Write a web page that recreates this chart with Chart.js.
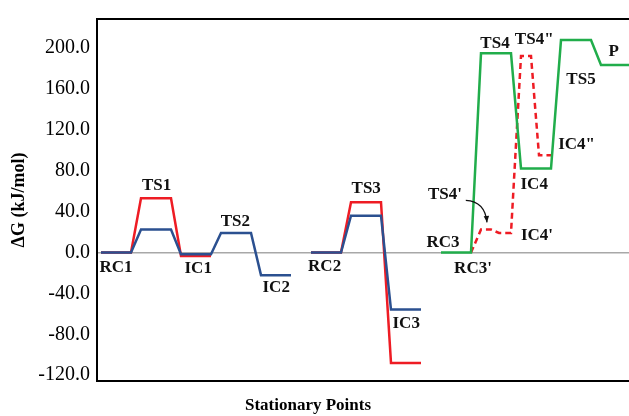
<!DOCTYPE html>
<html>
<head>
<meta charset="utf-8">
<script src="https://cdn.jsdelivr.net/npm/chart.js@4"></script>
<style>
  html, body { margin: 0; padding: 0; background: #fff; }
  #wrap { position: relative; width: 629px; height: 416px; }
</style>
</head>
<body>
<div id="wrap"><canvas id="chart"></canvas></div>
<script>
// x = position along the reaction (stage units), y = ΔG in kJ/mol
const stagesA = [0, 1, 2, 3, 4];              // RC1 TS1 IC1 TS2 IC2
const stagesB = [5.25, 6.25, 7.25];           // RC2 TS3 IC3
const stagesC = [8.5, 9.5, 10.5, 11.5, 12.5]; // RC3 TS4 IC4 TS5 P

const blueA = [0, 22.5, -1.7, 19.2, -22.1];
const redA = [0, 53.2, -3.4];
const blueB = [0, 36.1, -55.8];
const redB = [0, 49.3, -108.0];
const greenC = [0, 195.0, 82.3, 208.0, 183.7];

// RC3' -> TS4' -> IC4' -> TS4" -> IC4" (narrow levels)
const dashFrom = [9.25, 9.5, 9.95, 10.5, 10.95];
const dashTo = [9.25, 9.75, 10.25, 10.75, 11.25];
const dashG = [0, 22.5, 19.2, 192.4, 95.3];

const yTicks = [-120, -80, -40, 0, 40, 80, 120, 160, 200];

const pointNames = ['RC1', 'TS1', 'IC1', 'TS2', 'IC2', 'RC2', 'TS3', 'IC3', 'RC3', "RC3'",
  "TS4'", "IC4'", 'TS4', 'TS4"', 'IC4', 'IC4"', 'TS5', 'P'];
// where each name sits (data units)
const nameX = [0.375, 1.39, 2.43, 3.36, 4.38, 5.59, 6.63, 7.63, 8.55, 9.3,
  8.6, 10.9, 9.85, 10.83, 10.83, 11.89, 12.0, 12.82];
const nameY = [-15, 65.5, -16, 30.6, -34.5, -14.1, 62.6, -69.4, 10.2, -16,
  56.8, 17, 204.4, 208.5, 66.5, 105.3, 169.4, 196.6];

const LEVEL = 0.75;

function levels(starts, values) {
  const pts = [];
  starts.forEach((s, i) => {
    pts.push({x: s, y: values[i]});
    pts.push({x: s + LEVEL, y: values[i]});
  });
  return pts;
}

function narrowLevels(from, to, values) {
  const pts = [];
  from.forEach((s, i) => {
    pts.push({x: s, y: values[i]});
    if (to[i] !== s) pts.push({x: to[i], y: values[i]});
  });
  return pts;
}

const RED = '#ee1c24';
const BLUE = '#2b5090';
const GREEN = '#21ad4b';
const SERIF = '"Liberation Serif", "Times New Roman", serif';

function line(data, color, dash) {
  return {
    data: data,
    borderColor: color,
    borderWidth: 2.5,
    borderDash: dash || [],
    pointRadius: 0,
    fill: false,
    tension: 0,
  };
}

const annotations = {
  id: 'annotations',
  afterDatasetsDraw(chart) {
    const {ctx, scales: {x, y}} = chart;
    ctx.save();
    ctx.fillStyle = '#111';
    ctx.font = 'bold 17px ' + SERIF;
    ctx.textAlign = 'center';
    ctx.textBaseline = 'middle';
    pointNames.forEach((n, i) => {
      ctx.fillText(n, x.getPixelForValue(nameX[i]), y.getPixelForValue(nameY[i]));
    });

    // curved arrow TS4' -> its level
    const x0 = x.getPixelForValue(9.12), y0 = y.getPixelForValue(51);
    const cx = x.getPixelForValue(9.6), cy = y.getPixelForValue(50);
    const x1 = x.getPixelForValue(9.65), y1 = y.getPixelForValue(29.5);
    ctx.strokeStyle = '#111';
    ctx.lineWidth = 1.2;
    ctx.beginPath();
    ctx.moveTo(x0, y0);
    ctx.quadraticCurveTo(cx, cy, x1, y1);
    ctx.stroke();
    const ang = Math.atan2(y1 - cy, x1 - cx);
    ctx.beginPath();
    ctx.moveTo(x1, y1);
    ctx.lineTo(x1 - 7 * Math.cos(ang - 0.4), y1 - 7 * Math.sin(ang - 0.4));
    ctx.lineTo(x1 - 7 * Math.cos(ang + 0.4), y1 - 7 * Math.sin(ang + 0.4));
    ctx.closePath();
    ctx.fillStyle = '#111';
    ctx.fill();

    // x axis caption
    ctx.font = 'bold 17px ' + SERIF;
    ctx.fillStyle = '#000';
    ctx.fillText('Stationary Points', chart.chartArea.left + 211, 406);
    ctx.restore();
  }
};

new Chart(document.getElementById('chart'), {
  type: 'line',
  data: {
    datasets: [
      line(levels(stagesA, blueA), BLUE),
      line(levels(stagesB, blueB), BLUE),
      line(levels(stagesA.slice(0, redA.length), redA), RED),
      line(levels(stagesB, redB), RED),
      line(levels(stagesC, greenC), GREEN),
      line(narrowLevels(dashFrom, dashTo, dashG), RED, [6, 4]),
    ]
  },
  options: {
    responsive: true,
    maintainAspectRatio: false,
    animation: false,
    layout: {padding: {top: 16, right: 0, bottom: 0, left: 0}},
    plugins: {
      legend: {display: false},
      tooltip: {enabled: false},
    },
    scales: {
      x: {
        type: 'linear',
        min: -0.1,
        max: 13.2,
        ticks: {display: false},
        grid: {display: false, drawTicks: false},
        border: {display: true, color: '#000', width: 2},
        afterFit(s) { s.height = 35; },
      },
      xTop: {
        type: 'linear',
        position: 'top',
        min: -0.1,
        max: 13.2,
        ticks: {display: false},
        grid: {display: false, drawTicks: false},
        border: {display: true, color: '#000', width: 2},
        afterFit(s) { s.height = 0; },
      },
      y: {
        min: -125.7,
        max: 228.6,
        afterBuildTicks(s) { s.ticks = yTicks.map(v => ({value: v})); },
        afterFit(s) { s.width = 97; },
        ticks: {
          color: '#000',
          padding: 7,
          font: {family: SERIF, size: 20},
          callback: v => v.toFixed(1),
        },
        grid: {
          drawTicks: false,
          lineWidth: 1.5,
          color: c => (c.tick && c.tick.value === 0) ? '#a8a8a8' : 'rgba(0,0,0,0)',
        },
        border: {display: true, color: '#000', width: 2},
        title: {
          display: true,
          text: 'ΔG (kJ/mol)',
          color: '#000',
          font: {family: SERIF, size: 18, weight: 'bold'},
          padding: {top: 9, bottom: 0},
        },
      },
    },
  },
  plugins: [annotations],
});
</script>
</body>
</html>
